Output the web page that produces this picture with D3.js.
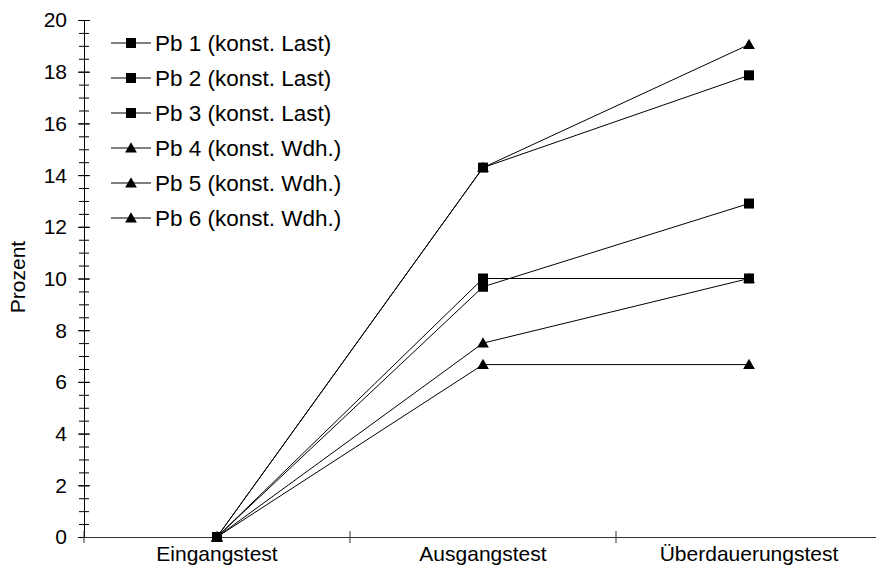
<!DOCTYPE html>
<html>
<head>
<meta charset="utf-8">
<script src="https://cdn.jsdelivr.net/npm/d3@7"></script>
<style>
  html, body { margin: 0; padding: 0; background: #fff; }
  svg { display: block; }
  text { font-family: "Liberation Sans", Arial, sans-serif; fill: #000; }
</style>
</head>
<body>
<div id="chart"></div>
<script>
// ---- Data ----
const categories = ["Eingangstest", "Ausgangstest", "Überdauerungstest"];
const seriesNames = [
  "Pb 1 (konst. Last)", "Pb 2 (konst. Last)", "Pb 3 (konst. Last)",
  "Pb 4 (konst. Wdh.)", "Pb 5 (konst. Wdh.)", "Pb 6 (konst. Wdh.)"
];
const seriesMarkers = ["square", "square", "square", "triangle", "triangle", "triangle"];
const pb1 = [0, 14.29, 17.86];
const pb2 = [0, 10.0, 10.0];
const pb3 = [0, 9.68, 12.9];
const pb4 = [0, 14.29, 19.05];
const pb5 = [0, 7.5, 10.0];
const pb6 = [0, 6.67, 6.67];
const seriesValues = [pb1, pb2, pb3, pb4, pb5, pb6];
const yMajorTicks = [0, 2, 4, 6, 8, 10, 12, 14, 16, 18, 20];
const yMinorTicks = d3.range(0, 20.01, 0.5);
const yTitle = "Prozent";

// ---- Layout ----
const W = 876, H = 580;
const FS = 21;
const LFS = 22.5;
const svg = d3.select("#chart").append("svg").attr("width", W).attr("height", H);

const x = d3.scaleBand().domain(categories).range([84, 882]).paddingInner(0).paddingOuter(0);
const y = d3.scaleLinear().domain([0, 20]).range([537, 20]);

// Y axis (minor ticks)
const yMinor = svg.append("g").attr("transform", "translate(84,0)")
  .call(d3.axisLeft(y).tickValues(yMinorTicks).tickFormat("").tickSize(0));
yMinor.select(".domain").remove();
yMinor.selectAll(".tick line").attr("x1", -5).attr("x2", 5).attr("stroke", "#000");

// Y axis (major ticks + labels)
const yAxis = svg.append("g").attr("transform", "translate(84,0)")
  .call(d3.axisLeft(y).tickValues(yMajorTicks).tickFormat(d3.format("d")).tickSize(0));
yAxis.select(".domain").attr("stroke", "#000");
yAxis.selectAll(".tick line").attr("x1", -6).attr("x2", 6).attr("stroke", "#000");
yAxis.selectAll(".tick text").attr("x", -17).attr("dy", "0.33em")
  .style("font-size", FS + "px").style("font-family", "'Liberation Sans', Arial, sans-serif").attr("fill", "#000");

// X axis
const xAxis = svg.append("g").attr("transform", "translate(0,537)")
  .call(d3.axisBottom(x).tickSize(0).tickFormat(""));
xAxis.select(".domain").attr("stroke", "#333");
xAxis.selectAll(".tick").remove();
const bounds = categories.map(c => x(c)).concat([x(categories[2]) + x.bandwidth()]);
xAxis.selectAll("line.sep").data(bounds).enter().append("line")
  .attr("class", "sep")
  .attr("x1", d => d).attr("x2", d => d).attr("y1", -6).attr("y2", 6)
  .attr("stroke", "#333");
svg.append("g").selectAll("text").data(categories).enter().append("text")
  .attr("x", d => x(d) + x.bandwidth() / 2)
  .attr("y", 561)
  .attr("text-anchor", "middle")
  .style("font-size", FS + "px")
  .text(d => d);

// Y title
svg.append("text")
  .attr("transform", "translate(25,277) rotate(-90)")
  .attr("text-anchor", "middle")
  .style("font-size", FS + "px")
  .text(yTitle);

// ---- Series ----
const cx = c => x(c) + x.bandwidth() / 2;
const line = d3.line().x((d, i) => cx(categories[i])).y(d => y(d));
const sqSym = d3.symbol().type(d3.symbolSquare).size(100);
const triSym = d3.symbol().type(d3.symbolTriangle).size(60);

// draw triangles first so squares lie on top
const order = [5, 4, 3, 2, 1, 0];
const gS = svg.append("g");
order.forEach(si => {
  gS.append("path").datum(seriesValues[si])
    .attr("d", line).attr("fill", "none").attr("stroke", "#000").attr("stroke-width", 1);
});
order.forEach(si => {
  const sym = seriesMarkers[si] === "square" ? sqSym : triSym;
  gS.selectAll(null).data(seriesValues[si]).enter().append("path")
    .attr("d", sym)
    .attr("transform", (d, i) => `translate(${cx(categories[i])},${y(d) + (seriesMarkers[si] === "triangle" ? 1 : 0)})`)
    .attr("fill", "#000");
});

// ---- Legend ----
const legend = svg.append("g");
seriesNames.forEach((name, i) => {
  const ly = 43 + i * 35;
  const g = legend.append("g").attr("transform", `translate(0,${ly})`);
  g.append("line").attr("x1", 111).attr("x2", 151).attr("y1", 0).attr("y2", 0)
    .attr("stroke", "#000").attr("stroke-width", 1);
  const sym = seriesMarkers[i] === "square" ? sqSym : triSym;
  g.append("path").attr("d", sym).attr("transform", `translate(131,${seriesMarkers[i] === "triangle" ? 1 : 0})`).attr("fill", "#000");
  g.append("text").attr("x", 155).attr("y", 0).attr("dy", "0.35em")
    .style("font-size", LFS + "px").text(name);
});
</script>
</body>
</html>
